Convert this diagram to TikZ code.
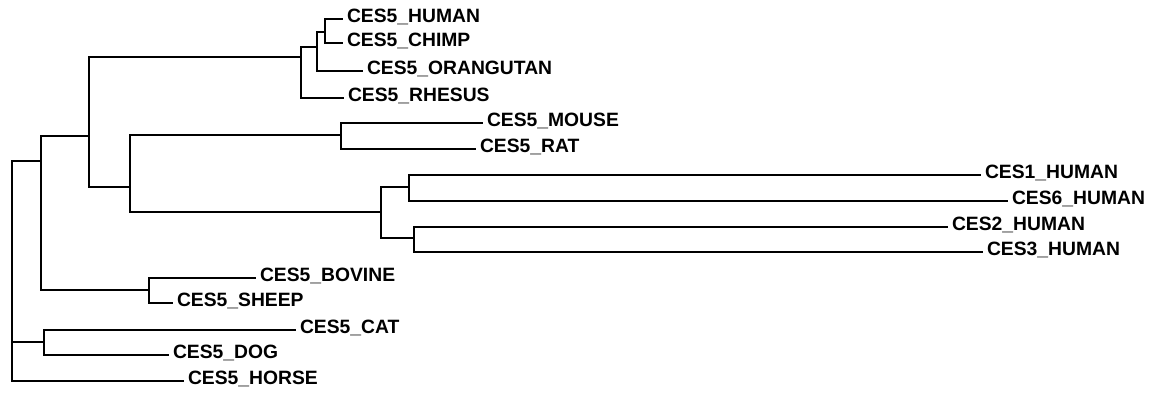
\documentclass[tikz,border=0pt]{standalone}
\usepackage{fontspec}
\setmainfont{Liberation Sans}
\begin{document}
\begin{tikzpicture}[x=1pt,y=-1pt,
  edge/.style={draw=black,line width=2pt,line cap=rect},
  leaf/.style={anchor=west,inner xsep=5pt,inner ysep=0pt,outer sep=0pt,text height=7pt,text depth=-7pt,
    font=\fontsize{19.3}{22}\selectfont\bfseries}]
\useasboundingbox (0,0) rectangle (1158,395);
% internal nodes (x of vertical line, y of parent connection)
\coordinate (root) at (12,161);
\coordinate (A) at (41,161);
\coordinate (B) at (89,136);
\coordinate (P) at (301,57);
\coordinate (HCO) at (317,47);
\coordinate (HC) at (325,32);
\coordinate (MR) at (341,135);
\coordinate (C) at (130,187);
\coordinate (E) at (381,212);
\coordinate (E16) at (409,187);
\coordinate (E23) at (414,238);
\coordinate (BS) at (149,290);
\coordinate (CD) at (44,342);
% leaves
\node[leaf] (human) at (342,19) {CES5\_HUMAN};
\node[leaf] (chimp) at (342,43) {CES5\_CHIMP};
\node[leaf] (orang) at (362,71) {CES5\_ORANGUTAN};
\node[leaf] (rhesus) at (343,98) {CES5\_RHESUS};
\node[leaf] (mouse) at (482,123) {CES5\_MOUSE};
\node[leaf] (rat) at (475,149) {CES5\_RAT};
\node[leaf] (ces1) at (980,175) {CES1\_HUMAN};
\node[leaf] (ces6) at (1007,201) {CES6\_HUMAN};
\node[leaf] (ces2) at (947,227) {CES2\_HUMAN};
\node[leaf] (ces3) at (982,252) {CES3\_HUMAN};
\node[leaf] (bovine) at (255,278) {CES5\_BOVINE};
\node[leaf] (sheep) at (172,303) {CES5\_SHEEP};
\node[leaf] (cat) at (295,330) {CES5\_CAT};
\node[leaf] (dog) at (168,355) {CES5\_DOG};
\node[leaf] (horse) at (183,381) {CES5\_HORSE};
% connectors
\path[edge] (root) -- (A);
\path[edge] (root) |- (CD);
\path[edge] (root) |- (horse.west);
\path[edge] (A) |- (B);
\path[edge] (A) |- (BS);
\path[edge] (B) |- (P);
\path[edge] (B) |- (C);
\path[edge] (P) |- (HCO);
\path[edge] (P) |- (rhesus.west);
\path[edge] (HCO) |- (HC);
\path[edge] (HCO) |- (orang.west);
\path[edge] (HC) |- (human.west);
\path[edge] (HC) |- (chimp.west);
\path[edge] (C) |- (MR);
\path[edge] (C) |- (E);
\path[edge] (MR) |- (mouse.west);
\path[edge] (MR) |- (rat.west);
\path[edge] (E) |- (E16);
\path[edge] (E) |- (E23);
\path[edge] (E16) |- (ces1.west);
\path[edge] (E16) |- (ces6.west);
\path[edge] (E23) |- (ces2.west);
\path[edge] (E23) |- (ces3.west);
\path[edge] (BS) |- (bovine.west);
\path[edge] (BS) |- (sheep.west);
\path[edge] (CD) |- (cat.west);
\path[edge] (CD) |- (dog.west);
\end{tikzpicture}
\end{document}
